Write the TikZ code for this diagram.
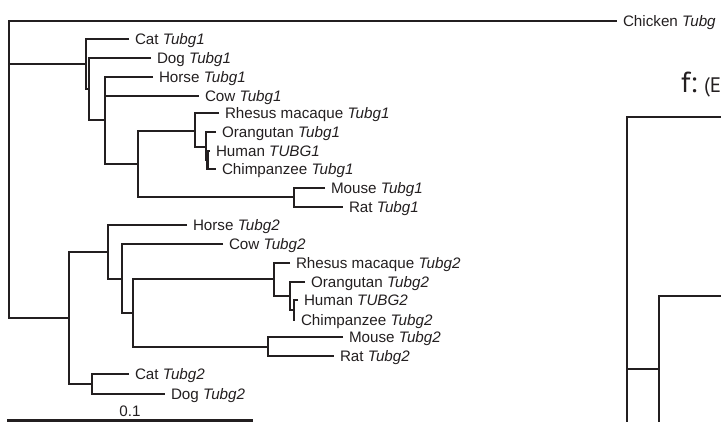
\documentclass[tikz,border=0pt]{standalone}
\usepackage{fontspec}
\setmainfont{Liberation Sans}
\newfontfamily\panelfont{PT Sans}
\definecolor{ink}{HTML}{231F20}

\begin{document}
\begin{tikzpicture}[x=1pt,y=-1pt,line width=2.1pt,color=ink,
    leaf/.style={anchor=west,inner xsep=6pt,inner ysep=0pt,outer sep=0pt,
      text height=10.8pt,text depth=0pt,font=\fontsize{15.2}{17}\selectfont}]
  \useasboundingbox (0,0) rectangle (721,422);

  % % root and outgroup
  \coordinate (root) at (9,21);
  \node[leaf] (chicken) at (617,21) {Chicken \textit{Tubg}};

  % % Tubg1 clade
  \coordinate (tubg1) at (86,64);
  \coordinate (n1b)   at (89,89);
  \coordinate (n1c)   at (105,120);
  \coordinate (n1d)   at (138,164);
  \coordinate (prim1) at (195,131);
  \coordinate (ape1)  at (206,147);
  \coordinate (homo1) at (207.5,160);
  \coordinate (rod1)  at (294,197);
  \node[leaf] (cat1)    at (129,39)  {Cat \textit{Tubg1}};
  \node[leaf] (dog1)    at (151,58)  {Dog \textit{Tubg1}};
  \node[leaf] (horse1)  at (153,77)  {Horse \textit{Tubg1}};
  \node[leaf] (cow1)    at (199,96)  {Cow \textit{Tubg1}};
  \node[leaf] (rhesus1) at (219,113) {Rhesus macaque \textit{Tubg1}};
  \node[leaf] (orang1)  at (216,132) {Orangutan \textit{Tubg1}};
  \node[leaf] (human1)  at (210,151) {Human \textit{TUBG1}};
  \node[leaf] (chimp1)  at (216,169) {Chimpanzee \textit{Tubg1}};
  \node[leaf] (mouse1)  at (325,188) {Mouse \textit{Tubg1}};
  \node[leaf] (rat1)    at (343,207) {Rat \textit{Tubg1}};

  % % Tubg2 clade
  \coordinate (tubg2) at (69,318);
  \coordinate (n2b)   at (108,252);
  \coordinate (n2c)   at (122,279);
  \coordinate (n2d)   at (133,313);
  \coordinate (prim2) at (274,279);
  \coordinate (ape2)  at (290,296);
  \coordinate (homo2) at (294,310);
  \coordinate (rod2)  at (268,347);
  \coordinate (carn2) at (92,384);
  \node[leaf] (horse2)  at (187,225) {Horse \textit{Tubg2}};
  \node[leaf] (cow2)    at (223,244) {Cow \textit{Tubg2}};
  \node[leaf] (rhesus2) at (290,263) {Rhesus macaque \textit{Tubg2}};
  \node[leaf] (orang2)  at (305,282) {Orangutan \textit{Tubg2}};
  \node[leaf] (human2)  at (298,300) {Human \textit{TUBG2}};
  \node[leaf] (chimp2)  at (295,320) {Chimpanzee \textit{Tubg2}};
  \node[leaf] (mouse2)  at (343,337) {Mouse \textit{Tubg2}};
  \node[leaf] (rat2)    at (334,356) {Rat \textit{Tubg2}};
  \node[leaf] (cat2)    at (129,374) {Cat \textit{Tubg2}};
  \node[leaf] (dog2)    at (165,394) {Dog \textit{Tubg2}};

  % % branches
  \draw (tubg2) -| (root) -- (chicken.west);
  \draw (root) |- (tubg1);

  \draw (cat1.west) -| (tubg1) |- (n1b);
  \draw (dog1.west) -| (n1b) |- (n1c);
  \draw (horse1.west) -| (n1c) |- (n1d) (n1c) |- (cow1.west);
  \draw (prim1) -| (n1d) |- (rod1);
  \draw (rhesus1.west) -| (prim1) |- (ape1);
  \draw (orang1.west) -| (ape1) |- (homo1);
  \draw (human1.west) -| (homo1) |- (chimp1.west);
  \draw (mouse1.west) -| (rod1) |- (rat1.west);

  \draw (n2b) -| (tubg2) |- (carn2);
  \draw (horse2.west) -| (n2b) |- (n2c);
  \draw (cow2.west) -| (n2c) |- (n2d);
  \draw (prim2) -| (n2d) |- (rod2);
  \draw (rhesus2.west) -| (prim2) |- (ape2);
  \draw (orang2.west) -| (ape2) |- (homo2);
  \draw (human2.west) -| (homo2) |- (chimp2.west);
  \draw (mouse2.west) -| (rod2) |- (rat2.west);
  \draw (cat2.west) -| (carn2) |- (dog2.west);

  % % scale bar
  \coordinate (barl) at (7,420.5);
  \coordinate (barr) at (253,420.5);
  \draw[line width=2.6pt] (barl) -- (barr);
  \node[anchor=base,inner sep=0pt,font=\fontsize{15.2}{17}\selectfont] (barlab) at (130,416.5) {0.1};

  % % next panel (cut off)
  \node[anchor=base west,inner sep=0pt,font=\panelfont\fontsize{29}{29}\selectfont] (flab) at (680,93) {f:};
  \node[anchor=base west,inner sep=0pt,font=\panelfont\fontsize{21}{21}\selectfont] (ftitle) at (703,93) {(E};
  \coordinate (froot) at (627,117);
  \coordinate (fsub) at (659,296);
  \coordinate (fjoin) at (627,369);
  \draw (730,117) -| (froot) -- (627,430);
  \draw (730,296) -| (fsub) -- (659,430);
  \draw (fjoin) -- (fsub |- fjoin);
\end{tikzpicture}
\end{document}
